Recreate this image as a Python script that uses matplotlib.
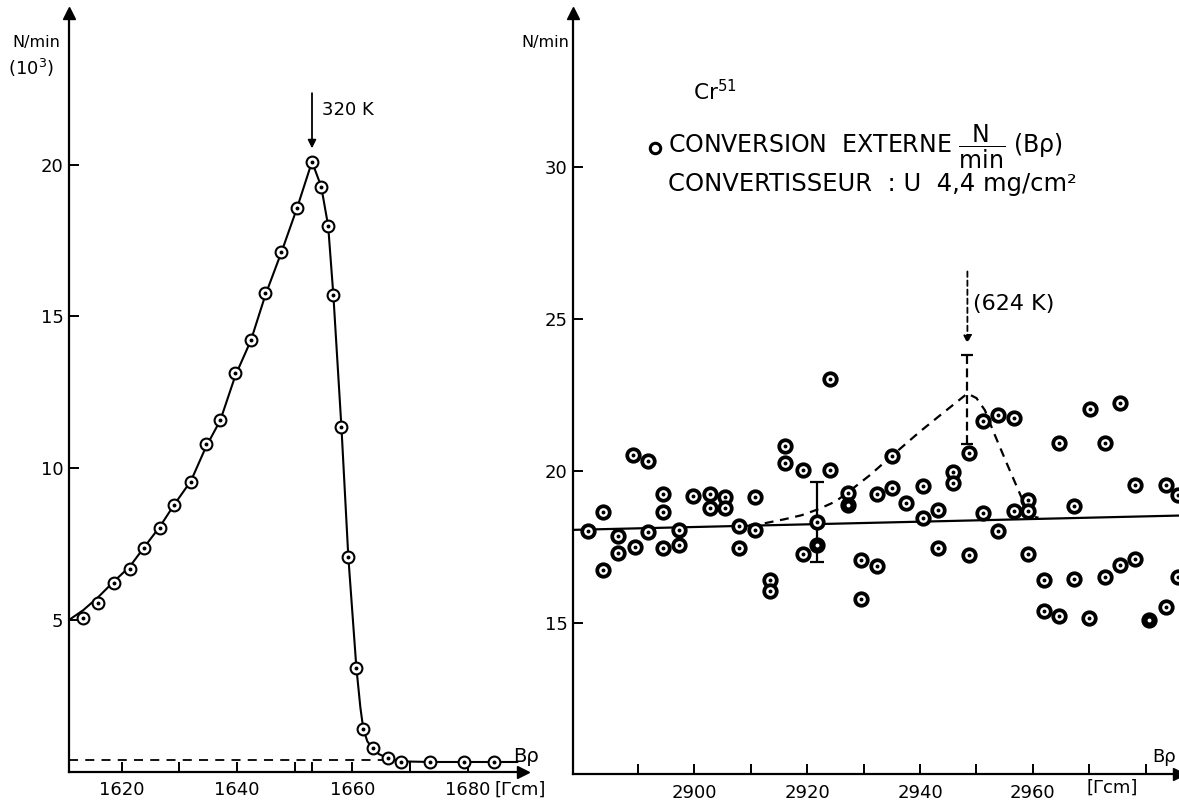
import matplotlib
matplotlib.use("Agg")
import matplotlib.pyplot as plt

plt.rcParams['font.family'] = ['DejaVu Sans']
plt.rcParams['mathtext.default'] = 'regular'

# ---- left panel : 320 K line (N/min in 10^3) ----
left_x = [1613.3, 1615.9, 1618.7, 1621.4, 1623.9, 1626.6, 1629.1, 1632.0, 1634.6, 1637.1,
          1639.7, 1642.4, 1644.9, 1647.7, 1650.4, 1653.0, 1654.6, 1655.8, 1656.7, 1658.1,
          1659.3, 1660.7, 1661.9, 1663.5, 1666.1, 1668.5, 1673.5, 1679.3, 1684.5]
left_y = [5.07, 5.56, 6.22, 6.69, 7.38, 8.04, 8.80, 9.56, 10.79, 11.58,
          13.13, 14.21, 15.76, 17.12, 18.57, 20.10, 19.28, 17.99, 15.72, 11.37,
          7.08, 3.42, 1.41, 0.78, 0.45, 0.32, 0.32, 0.32, 0.32]
# hand drawn curve through the points
curve_x = [1610.85, 1613.3, 1615.9, 1618.7, 1621.4, 1623.9, 1626.6, 1629.1, 1632.0, 1634.6,
           1637.1, 1639.7, 1642.4, 1644.9, 1647.7, 1650.4, 1653.0, 1654.6, 1655.8, 1656.7,
           1658.1, 1659.3, 1660.7, 1661.4, 1661.9, 1662.6, 1663.5, 1664.6, 1666.1, 1668.5,
           1673.5, 1679.3, 1684.5, 1688.6]
curve_y = [5.00, 5.32, 5.75, 6.28, 6.76, 7.40, 8.07, 8.80, 9.58, 10.70,
           11.58, 13.05, 14.21, 15.70, 17.12, 18.57, 20.10, 19.28, 17.99, 15.72,
           11.37, 7.08, 3.42, 2.10, 1.41, 1.00, 0.78, 0.58, 0.45, 0.34,
           0.32, 0.32, 0.32, 0.32]
background_x = [1610.85, 1666.5]
background_y = [0.37, 0.37]

# ---- right panel : 624 K line (N/min) ----
open_x = [2881.2, 2883.9, 2883.9, 2886.5, 2886.5, 2889.2, 2889.4, 2891.8, 2891.8, 2894.5,
          2894.5, 2894.5, 2897.2, 2897.2, 2899.8, 2902.7, 2902.7, 2905.5, 2905.5, 2908.0,
          2908.0, 2910.8, 2910.8, 2913.5, 2913.5, 2916.1, 2916.1, 2919.2, 2919.2, 2921.7,
          2924.1, 2924.1, 2927.2, 2929.5, 2929.5, 2932.3, 2932.3, 2935.0, 2935.1, 2937.6,
          2940.5, 2940.5, 2943.1, 2943.1, 2945.8, 2945.8, 2948.6, 2948.6, 2951.1, 2951.1,
          2953.9, 2953.9, 2956.6, 2956.6, 2959.2, 2959.2, 2959.1, 2961.9, 2961.9, 2964.6,
          2964.6, 2967.3, 2967.3, 2969.9, 2970.1, 2972.8, 2972.8, 2975.4, 2975.4, 2978.1,
          2978.1, 2983.6, 2983.6, 2985.7, 2985.7]
open_y = [18.03, 18.65, 16.74, 17.86, 17.30, 20.53, 17.50, 20.33, 17.99, 19.24,
          18.65, 17.47, 18.06, 17.57, 19.18, 19.24, 18.78, 19.15, 18.78, 18.20,
          17.47, 19.15, 18.06, 16.41, 16.05, 20.82, 20.26, 20.03, 17.27, 18.32,
          23.03, 20.03, 19.28, 17.07, 15.79, 19.24, 16.88, 20.49, 19.44, 18.95,
          19.51, 18.45, 18.72, 17.47, 19.97, 19.61, 20.59, 17.24, 21.64, 18.62,
          21.84, 18.03, 21.74, 18.69, 19.05, 18.69, 17.27, 16.41, 15.39, 20.92,
          15.23, 18.85, 16.45, 15.16, 22.04, 20.92, 16.51, 22.24, 16.91, 19.54,
          17.11, 19.54, 15.52, 19.21, 16.51]
filled_x = [2921.7, 2927.2, 2980.6]
filled_y = [17.57, 18.88, 15.10]

line_x = [2878.5, 2985.9]
line_y = [18.07, 18.54]

dash_x = [2907.0, 2912.0, 2916.0, 2919.0, 2922.0, 2925.0, 2927.2, 2931.0, 2935.0, 2940.0,
          2944.0, 2948.4, 2950.0, 2951.5, 2953.0, 2955.5, 2958.3, 2960.1, 2961.0]
dash_y = [18.18, 18.27, 18.42, 18.55, 18.75, 19.00, 19.30, 19.85, 20.50, 21.30,
          21.90, 22.55, 22.40, 22.00, 21.30, 20.20, 19.00, 18.50, 18.47]

err_x = [2921.7, 2948.4]
err_mid = [18.32, 22.35]
err_lo = [17.00, 20.90]
err_hi = [19.64, 23.80]

W, H = 1179, 801
fig = plt.figure(figsize=(W / 100, H / 100), dpi=100)


def frame(l, b, r, t):
    return [l / W, 1 - b / H, (r - l) / W, (b - t) / H]


def style(ax):
    for s in ['top', 'right']:
        ax.spines[s].set_visible(False)
    for s in ['left', 'bottom']:
        ax.spines[s].set_linewidth(1.6)
    ax.tick_params(which='both', direction='in', length=7, width=1.4, labelsize=13)
    ax.tick_params(axis='x', pad=7)
    ax.tick_params(axis='y', pad=4)
    ax.plot([0], [1], marker='^', ms=8, color='black', transform=ax.transAxes, clip_on=False)
    ax.plot([1], [0], marker='>', ms=8, color='black', transform=ax.transAxes, clip_on=False)
    ax.patch.set_alpha(0)


def dots(ax, x, y, ms, mew, filled=False):
    ax.plot(x, y, 'o', ls='none', ms=ms, mfc='black' if filled else 'white',
            mec='black', mew=mew, zorder=5, clip_on=False)
    ax.plot(x, y, 'o', ls='none', ms=1.8, color='white' if filled else 'black',
            zorder=6, clip_on=False)


# left axes
ax1 = fig.add_axes(frame(69, 771.7, 523, 13))
ax1.set_xlim(1610.85, 1689.6)
ax1.set_ylim(0, 25.0)
style(ax1)
ax1.set_xticks([1620, 1640, 1660, 1680])
ax1.set_xticks([1630, 1650, 1653, 1670], minor=True)
ax1.set_yticks([5, 10, 15, 20])
ax1.plot(curve_x, curve_y, color='black', lw=1.5)
ax1.plot(background_x, background_y, color='black', lw=1.3, ls=(0, (5, 4)))
dots(ax1, left_x, left_y, 8.5, 1.5)
ax1.annotate('', xy=(1653.0, 20.45), xytext=(1653.0, 22.45),
             arrowprops=dict(arrowstyle='-|>', color='black', lw=1.3, mutation_scale=12))
ax1.text(1654.8, 21.8, '320 K', fontsize=13, va='center', ha='left')
fig.text(513 / W, 1 - 756 / H, 'Bρ', fontsize=14, va='center', ha='left')
fig.text(495 / W, 1 - 790 / H, '[Γcm]', fontsize=13, va='center', ha='left')
fig.text(12 / W, 1 - 42 / H, 'N/min', fontsize=11.5, va='center', ha='left')
fig.text(8 / W, 1 - 68 / H, '(10$^3$)', fontsize=13, va='center', ha='left')

# right axes
ax2 = fig.add_axes(frame(573, 774, W, 13))
ax2.set_xlim(2878.5, 2985.9)
ax2.set_ylim(10.05, 35.05)
style(ax2)
ax2.set_xticks([2900, 2920, 2940, 2960])
ax2.set_xticks([2890, 2910, 2930, 2950, 2970, 2980], minor=True)
ax2.set_yticks([15, 20, 25, 30])
ax2.plot(line_x, line_y, color='black', lw=1.6)
ax2.plot(dash_x, dash_y, color='black', lw=1.6, ls=(0, (4, 3)))
ax2.errorbar(err_x[:1], err_mid[:1], yerr=[[err_mid[0] - err_lo[0]], [err_hi[0] - err_mid[0]]],
             fmt='none', ecolor='black', elinewidth=1.6, capsize=5, capthick=1.6)
eb = ax2.errorbar(err_x[1:], err_mid[1:], yerr=[[err_mid[1] - err_lo[1]], [err_hi[1] - err_mid[1]]],
                  fmt='none', ecolor='black', elinewidth=1.6, capsize=4, capthick=1.6)
eb[2][0].set_linestyle((0, (4, 2)))
dots(ax2, open_x, open_y, 9, 2.7)
dots(ax2, filled_x, filled_y, 9, 2.7, filled=True)
ax2.annotate('', xy=(2948.4, 24.1), xytext=(2948.4, 26.65),
             arrowprops=dict(arrowstyle='-|>', color='black', lw=1.3, ls=(0, (3, 2)),
                             mutation_scale=12))
ax2.text(2949.4, 25.5, '(624 K)', fontsize=16, va='center', ha='left')
fig.text(1152 / W, 1 - 757 / H, 'Bρ', fontsize=13, va='center', ha='left')
fig.text(1087 / W, 1 - 788 / H, '[Γcm]', fontsize=13, va='center', ha='left')
fig.text(521 / W, 1 - 43 / H, 'N/min', fontsize=11.5, va='center', ha='left')

# legend block
fig.text(693 / W, 1 - 92 / H, 'Cr$^{51}$', fontsize=15.5, va='center', ha='left')
fig.lines.append(plt.Line2D([655 / W], [1 - 148 / H], marker='o', ms=7.5, mfc='white',
                            mec='black', mew=2.2, transform=fig.transFigure))
fig.text(668 / W, 1 - 147 / H, r'CONVERSION  EXTERNE $\dfrac{N}{min}$ (Bρ)', fontsize=17,
         va='center', ha='left')
fig.text(668 / W, 1 - 184 / H, 'CONVERTISSEUR  : U  4,4 mg/cm²', fontsize=17.5,
         va='center', ha='left')

fig.savefig('out.png', dpi=100)
